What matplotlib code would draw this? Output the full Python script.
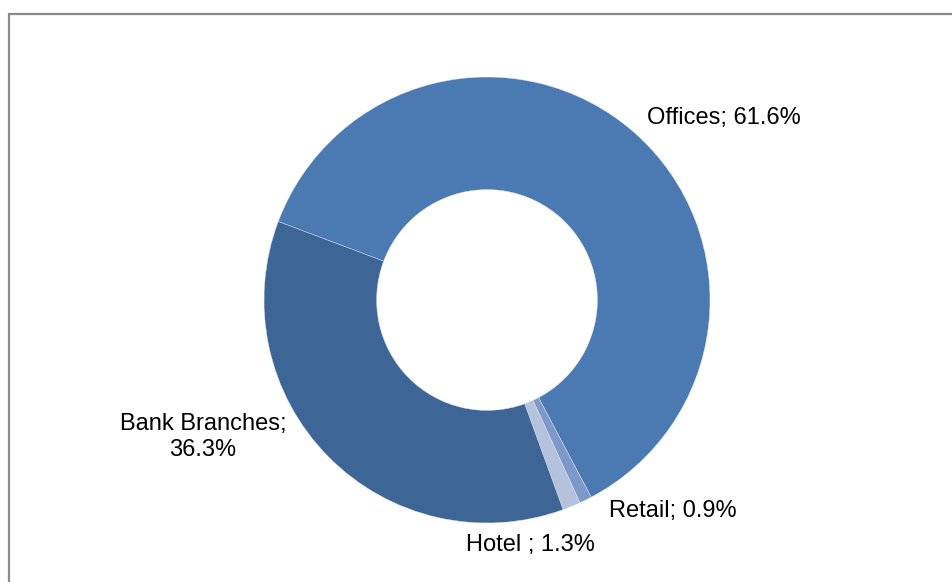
import matplotlib.pyplot as plt
from matplotlib.patches import Rectangle

# ── Data ─────────────────────────────────────────
categories = ["Offices", "Retail", "Hotel", "Bank Branches"]
shares = [61.6, 0.9, 1.3, 36.3]
labels = ["Offices; 61.6%", "Retail; 0.9%", "Hotel ; 1.3%", "Bank Branches;\n36.3%"]
colors = ["#4a7ab1", "#7c99c9", "#b4c2dd", "#3d6697"]

W, H = 953, 582
plt.rcParams['font.family'] = ['Liberation Sans', 'DejaVu Sans']

fig = plt.figure(figsize=(W / 100, H / 100), dpi=100)
ax = fig.add_axes([0, 0, 1, 1])

# donut, centre and radius in pixel units (y counted from bottom)
cx, cy, r = 487, H - 300, 223
ax.pie(shares, colors=colors, startangle=159.4, counterclock=False,
       center=(cx, cy), radius=r,
       wedgeprops=dict(width=r * 0.505, edgecolor="#dfe6f1", linewidth=0.3))
ax.set_xlim(0, W)
ax.set_ylim(0, H)
ax.set_aspect("equal")
ax.set_axis_off()

# data labels
label_pos = [(724, 118), (673, 511), (530, 545), (203, 437)]
for lab, (x, y) in zip(labels, label_pos):
    ax.text(x, H - y, lab, ha="center", va="center", fontsize=17,
            color="black", linespacing=1.25)

# outer chart border
ax.add_patch(Rectangle((9, -20), W + 20, H - 13.5 + 20, fill=False,
                       edgecolor="#8a8a8a", linewidth=1.6, clip_on=False))

fig.savefig("out.png", dpi=100)
plt.close(fig)
